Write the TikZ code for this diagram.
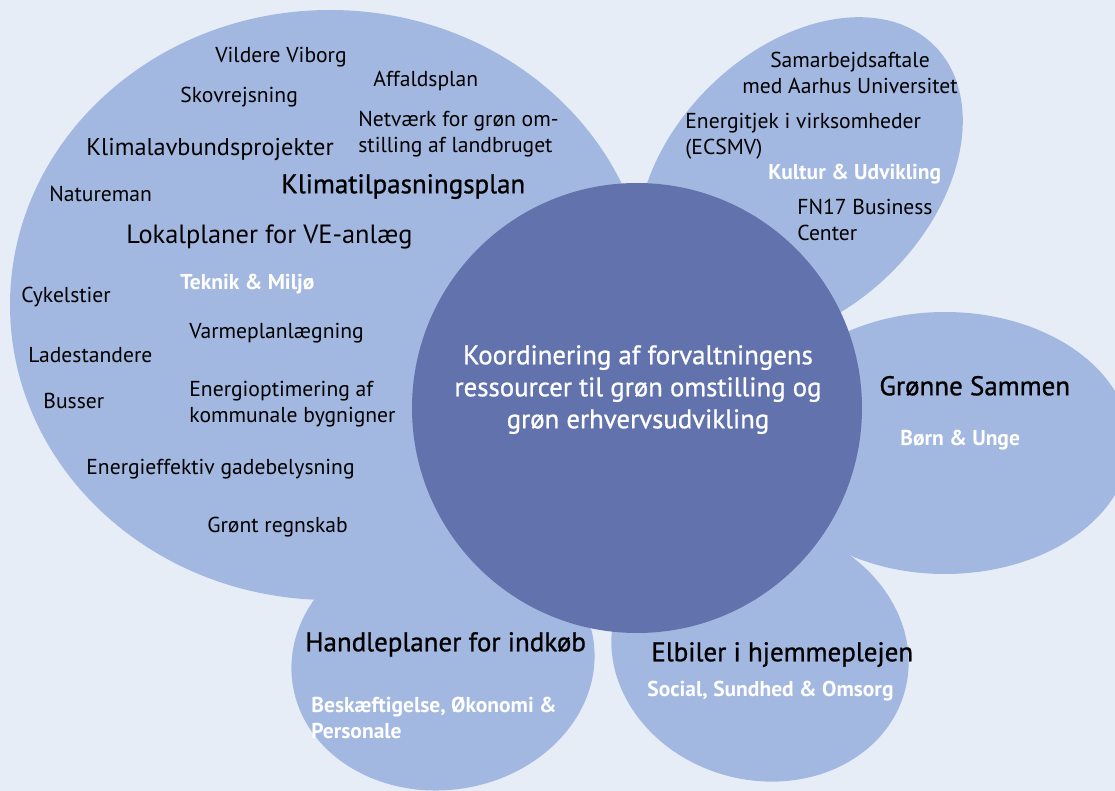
\documentclass[tikz,border=0pt]{standalone}
\usepackage{fontspec}
\setmainfont{PT Sans}
\newfontfamily\medfont[FakeBold=0.9]{PT Sans}
\usetikzlibrary{positioning}
\definecolor{bgblue}{HTML}{E6EDF7}
\definecolor{petal}{HTML}{A3B8E0}
\definecolor{core}{HTML}{6172AD}

\begin{document}
\begin{tikzpicture}[x=0.5pt,y=-0.5pt]
\tikzset{
  item/.style={anchor=west, inner sep=0pt, align=left, text height=1.5ex, text depth=0.25ex,
    font=\fontsize{10.8}{13}\selectfont},
  bigitem/.style={item, font=\fontsize{13.2}{15}\selectfont},
  head/.style={item, font=\medfont\fontsize{13.5}{16}\selectfont},
  dept/.style={item, text=white, font=\bfseries\fontsize{10.75}{13}\selectfont}
}

\coordinate (teknik) at (330,305);
\coordinate (kultur) at (800,180);
\coordinate (born) at (945,443);
\coordinate (beskaef) at (443,662);
\coordinate (social) at (760,652);
\coordinate (midt) at (637,408);

\fill[bgblue] (0,0) rectangle (1115,791);
\clip (0,0) rectangle (1115,791);

% petals
\fill[petal] (teknik) ellipse [x radius=320, y radius=295];
\fill[petal, rotate around={45:(kultur)}] (kultur) ellipse [x radius=190, y radius=130];
\fill[petal] (born) ellipse [x radius=185, y radius=131];
\fill[petal, rotate around={8:(beskaef)}] (beskaef) ellipse [x radius=152, y radius=128];
\fill[petal, rotate around={-15:(social)}] (social) ellipse [x radius=150, y radius=128];
\fill[core] (midt) circle [radius=225];

% Teknik & Miljoe (multi-line nodes sit on their last line)
\node[item] (vildere) at (215,56) {Vildere Viborg};
\node[item] (skov) at (180,96) {Skovrejsning};
\node[item] (affald) at (373,80) {Affaldsplan};
\node[item] (netvaerk) at (358,146) {Netværk for grøn om-\\stilling af landbruget};
\node[bigitem, font=\fontsize{12.15}{15}\selectfont] (lavbund) at (86,149) {Klimalavbundsprojekter};
\node[item] (natur) at (49,195) {Natureman};
\node[head] (tilpas) at (281,187) {Klimatilpasningsplan};
\node[bigitem] (lokal) at (126,237) {Lokalplaner for VE-anlæg};
\node[dept] (teknikdept) at (180,283) {Teknik \& Miljø};
\node[item] (cykel) at (21,296) {Cykelstier};
\node[item] (varme) at (189,332) {Varmeplanlægning};
\node[item] (lade) at (28,356) {Ladestandere};
\node[item] (energiopt) at (189,416) {Energioptimering af\\kommunale bygnigner};
\node[item] (busser) at (43,402) {Busser};
\node[item] (gade) at (86,468) {Energieffektiv gadebelysning};
\node[item] (regnskab) at (207,526) {Grønt regnskab};

% Kultur & Udvikling
\node[item, anchor=center, align=center] (aarhus) at (850,87) {Samarbejdsaftale\\med Aarhus Universitet};
\node[item] (energitjek) at (685,148) {Energitjek i virksomheder\\(ECSMV)};
\node[dept] (kulturdept) at (768,173) {Kultur \& Udvikling};
\node[item] (fn17) at (797,234) {FN17 Business\\Center};

% midten
\node[head, anchor=center, align=center, text=white, font=\medfont\fontsize{13.4}{16}\selectfont]
  (koord) at (638,422) {Koordinering af forvaltningens\\ressourcer til grøn omstilling og\\grøn erhvervsudvikling};

% Boern & Unge
\node[head] (gronne) at (879,389) {Grønne Sammen};
\node[dept] (borndept) at (900,439) {Børn \& Unge};

% Beskaeftigelse
\node[head] (handle) at (305,645) {Handleplaner for indkøb};
\node[dept] (beskaefdept) at (311,732) {Beskæftigelse, Økonomi \&\\Personale};

% Social
\node[head] (elbil) at (651,655) {Elbiler i hjemmeplejen};
\node[dept] (socialdept) at (647,690) {Social, Sundhed \& Omsorg};
\end{tikzpicture}
\end{document}
